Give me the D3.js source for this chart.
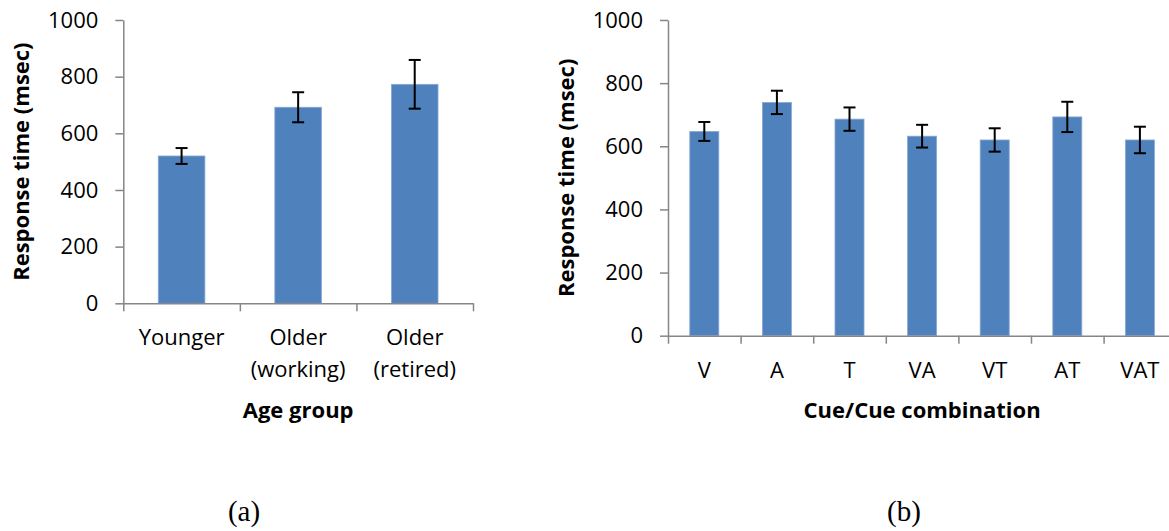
<!DOCTYPE html>
<html>
<head>
<meta charset="utf-8">
<script src="https://cdn.jsdelivr.net/npm/d3@7"></script>
<style>
  body { margin: 0; background: #fff; }
  svg { display: block; }
  .tick text { font-family: "Open Sans", sans-serif; font-size: 22px; fill: #000; }
  .titolo { font-family: "Open Sans", sans-serif; font-size: 22px; font-weight: bold; fill: #000; }
  .didascalia { font-family: "Liberation Serif", serif; font-size: 29px; fill: #000; }
</style>
</head>
<body>
<script>
// Dati
const ageGroups = ["Younger", "Older\n(working)", "Older\n(retired)"];
const ageMeans = [520, 692, 773];
const ageErrors = [28, 53, 86];

const cues = ["V", "A", "T", "VA", "VT", "AT", "VAT"];
const cueMeans = [647, 739, 686, 632, 620, 693, 620];
const cueErrors = [30, 37, 37, 36, 37, 48, 42];

const yTicks = [0, 200, 400, 600, 800, 1000];

const width = 1169;
const height = 531;
const barColor = "#4F81BD";
const axisColor = "#868686";

const svg = d3.create("svg")
  .attr("width", width)
  .attr("height", height);

svg.append("rect").attr("width", width).attr("height", height).attr("fill", "#fff");

// Disegna un pannello (barre + barre di errore + assi)
function pannello(cfg) {
  const { cats, means, errors, left, right, top, bottom, xTitle, caption, capX } = cfg;

  const x = d3.scaleBand().domain(cats).range([left, right]).padding(0);
  const y = d3.scaleLinear().domain([0, 1000]).range([bottom, top]);
  const bw = x.bandwidth();

  const g = svg.append("g");

  // barre
  g.selectAll("rect.bar")
    .data(cats)
    .join("rect")
    .attr("class", "bar")
    .attr("x", d => x(d) + bw * 0.3)
    .attr("width", bw * 0.4)
    .attr("y", (d, i) => y(means[i]))
    .attr("height", (d, i) => y(0) - y(means[i]))
    .attr("fill", barColor)
    .attr("stroke", "#8aa9d6")
    .attr("stroke-width", 0.8);

  // barre di errore
  const eb = g.selectAll("g.err")
    .data(cats)
    .join("g")
    .attr("class", "err")
    .attr("stroke", "#000")
    .attr("stroke-width", 2);
  eb.append("line")
    .attr("x1", d => x(d) + bw / 2).attr("x2", d => x(d) + bw / 2)
    .attr("y1", (d, i) => y(means[i] + errors[i]))
    .attr("y2", (d, i) => y(means[i] - errors[i]));
  eb.append("line")
    .attr("x1", d => x(d) + bw / 2 - 6).attr("x2", d => x(d) + bw / 2 + 6)
    .attr("y1", (d, i) => y(means[i] + errors[i]))
    .attr("y2", (d, i) => y(means[i] + errors[i]));
  eb.append("line")
    .attr("x1", d => x(d) + bw / 2 - 6).attr("x2", d => x(d) + bw / 2 + 6)
    .attr("y1", (d, i) => y(means[i] - errors[i]))
    .attr("y2", (d, i) => y(means[i] - errors[i]));

  // asse y
  g.append("g")
    .attr("transform", `translate(${left},0)`)
    .call(d3.axisLeft(y).tickValues(yTicks).tickFormat(d3.format("d")).tickSize(8).tickSizeOuter(0).tickPadding(17))
    .call(a => a.selectAll("line, path").attr("stroke", axisColor).attr("stroke-width", 1.5));

  // asse x: tacche ai confini delle categorie
  const xb = d3.scaleLinear().domain([0, cats.length]).range([left, right]);
  g.append("g")
    .attr("transform", `translate(0,${bottom})`)
    .call(d3.axisBottom(xb).tickValues(d3.range(cats.length + 1)).tickFormat("").tickSize(8).tickSizeOuter(0))
    .call(a => a.selectAll("line, path").attr("stroke", axisColor).attr("stroke-width", 1.5));

  // etichette categorie (anche su due righe)
  const lab = g.append("g")
    .attr("transform", `translate(0,${bottom})`)
    .call(d3.axisBottom(x).tickSize(0).tickPadding(0))
    .call(a => a.select(".domain").remove());
  lab.selectAll(".tick text")
    .attr("y", 0).attr("dy", null)
    .each(function (d) {
      const t = d3.select(this);
      t.text(null);
      d.split("\n").forEach((r, k) => {
        t.append("tspan").attr("x", 0).attr("y", 42 + k * 32).text(r);
      });
    });

  // titolo asse x
  g.append("text")
    .attr("class", "titolo")
    .attr("x", (left + right) / 2)
    .attr("y", 418)
    .attr("text-anchor", "middle")
    .text(xTitle);

  // titolo asse y
  g.append("text")
    .attr("class", "titolo")
    .attr("transform", `translate(${left - 94},${(top + bottom) / 2}) rotate(-90)`)
    .attr("text-anchor", "middle")
    .text("Response time (msec)");

  // didascalia
  g.append("text")
    .attr("class", "didascalia")
    .attr("x", capX)
    .attr("y", 521)
    .attr("text-anchor", "middle")
    .text(caption);
}

pannello({
  cats: ageGroups, means: ageMeans, errors: ageErrors,
  left: 123.3, right: 473, top: 20, bottom: 303.3,
  xTitle: "Age group", caption: "(a)", capX: 244
});

pannello({
  cats: cues, means: cueMeans, errors: cueErrors,
  left: 668, right: 668 + 7 * 72.6, top: 20, bottom: 335.7,
  xTitle: "Cue/Cue combination", caption: "(b)", capX: 904
});

document.body.appendChild(svg.node());
</script>
</body>
</html>
